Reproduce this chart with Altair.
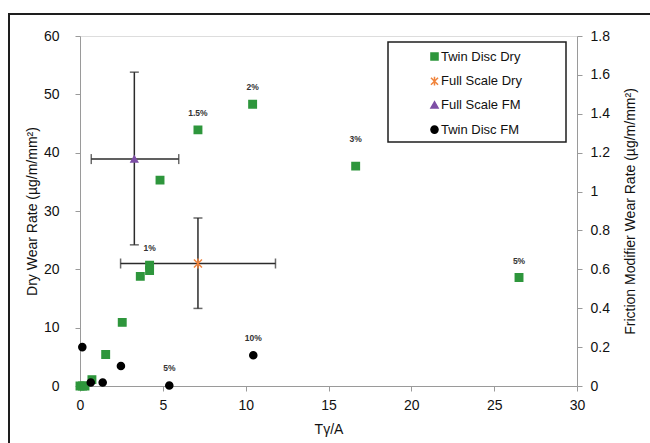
import altair as alt
import pandas as pd

# ---------------- data ----------------
series_names = ["Twin Disc Dry", "Full Scale Dry", "Full Scale FM", "Twin Disc FM"]
series_colors = ["#2E963C", "#F0843C", "#7E4FA6", "#000000"]
series_shapes = ["square", "M-1,-1L1,1M1,-1L-1,1M0,-1.25L0,1.25", "triangle-up", "circle"]

# Twin disc dry (left axis, µg/m/mm²)
td_dry_x = [0.0, 0.15, 0.3, 0.72, 1.55, 2.55, 3.64, 4.2, 4.2, 4.83, 7.12, 10.42, 16.64, 26.5]
td_dry_y = [0.0, 0.0, 0.0, 1.1, 5.4, 10.9, 18.8, 19.8, 20.7, 35.3, 43.9, 48.3, 37.7, 18.6]

# Twin disc FM (right axis)
td_fm_x = [0.14, 0.65, 1.37, 2.47, 5.39, 10.46]
td_fm_y = [0.20, 0.018, 0.018, 0.103, 0.003, 0.158]

# Full scale dry (left axis) with error ranges
fs_dry_x = [7.12]
fs_dry_y = [21.0]
fs_dry_xlo = [2.45]
fs_dry_xhi = [11.8]
fs_dry_ylo = [13.3]
fs_dry_yhi = [28.8]

# Full scale FM (right axis) with error ranges
fs_fm_x = [3.28]
fs_fm_y = [1.167]
fs_fm_xlo = [0.68]
fs_fm_xhi = [5.96]
fs_fm_ylo = [0.726]
fs_fm_yhi = [1.614]

# Concentration labels
dry_lab_x = [4.2, 7.12, 10.42, 26.5]
dry_lab_y = [20.7, 43.9, 48.3, 18.6]
dry_lab_t = ["1%", "1.5%", "2%", "5%"]
dry_lab2_x = [16.64]
dry_lab2_y = [37.7]
dry_lab2_t = ["3%"]
fm_lab_x = [5.39, 10.46]
fm_lab_y = [0.003, 0.158]
fm_lab_t = ["5%", "10%"]

x_ticks = [0, 5, 10, 15, 20, 25, 30]

# ---------------- encodings ----------------
FONT = "Liberation Sans"
AX_COL = "#9a9a9a"

x_axis = alt.Axis(values=x_ticks, title="Tγ/A", grid=False, domainColor=AX_COL, tickColor=AX_COL,
                  tickSize=5, labelPadding=7, labelFontSize=14, titleFontSize=14, offset=0,
                  labelFlush=False, titleFontWeight="normal", titlePadding=10,
                  labelColor="#111", titleColor="#111")
xs = alt.Scale(domain=[0, 30], nice=False, padding=0, zero=False)

left_axis = alt.Axis(orient="left", values=[0, 10, 20, 30, 40, 50, 60], grid=False, domainColor=AX_COL,
                     tickColor=AX_COL, tickSize=5, labelPadding=16, labelFontSize=14, offset=0,
                     labelFlush=False,
                     title="Dry Wear Rate  (µg/m/mm²)", titleFontSize=14, titleFontWeight="normal",
                     titlePadding=4, labelColor="#111", titleColor="#111")
right_axis = alt.Axis(orient="right", values=[0, 0.2, 0.4, 0.6, 0.8, 1.0, 1.2, 1.4, 1.6, 1.8],
                      labelExpr="datum.value == 1 ? '1' : (datum.value == 0 ? '0' : format(datum.value, '.1f'))",
                      grid=False, domainColor=AX_COL, tickColor=AX_COL, tickSize=5, labelPadding=8, offset=0,
                      labelFlush=False,
                      labelFontSize=14, title="Friction Modifier Wear Rate  (µg/m/mm²)", titleFontSize=14,
                      titleAngle=-90, titleBaseline="top",
                      titleFontWeight="normal", titlePadding=14, labelColor="#111", titleColor="#111")
ys_left = alt.Scale(domain=[0, 60], nice=False, padding=0)
ys_right = alt.Scale(domain=[0, 1.8], nice=False, padding=0)

color_scale = alt.Scale(domain=series_names, range=series_colors)
shape_scale = alt.Scale(domain=series_names, range=series_shapes)
legend = alt.Legend(orient="none", legendX=348, legendY=14, title=None, labelFontSize=13,
                    labelFont=FONT, labelColor="#111", rowPadding=9.7, labelOffset=0,
                    symbolStrokeWidth=1.5, symbolSize=50, direction="vertical")


def X(field="x"):
    return alt.X(f"{field}:Q", scale=xs, axis=x_axis)


def YL(field="y"):
    return alt.Y(f"{field}:Q", scale=ys_left, axis=left_axis)


def YR(field="y"):
    return alt.Y(f"{field}:Q", scale=ys_right, axis=right_axis)


def point_layer(df, Yf, size):
    return alt.Chart(df).mark_point(filled=True, strokeWidth=1.5, opacity=1).encode(
        x=X(), y=Yf(),
        color=alt.Color("series:N", scale=color_scale, legend=legend),
        stroke=alt.Stroke("series:N", scale=color_scale, legend=legend),
        shape=alt.Shape("series:N", scale=shape_scale, legend=legend),
        size=alt.value(size),
    )


def errorbar_layers(x, y, xlo, xhi, ylo, yhi, Yf):
    d = pd.DataFrame({"x": x, "y": y, "xlo": xlo, "xhi": xhi, "ylo": ylo, "yhi": yhi})
    ecol = "#2b2b2b"
    h = alt.Chart(d).mark_rule(color=ecol, strokeWidth=1.5).encode(
        x=X("xlo"), x2="xhi", y=Yf())
    v = alt.Chart(d).mark_rule(color=ecol, strokeWidth=1.5).encode(
        x=X(), y=Yf("ylo"), y2="yhi")
    capx = pd.DataFrame({"x": xlo + xhi, "y": y + y})
    capy = pd.DataFrame({"x": x + x, "y": ylo + yhi})
    cx = alt.Chart(capx).mark_tick(orient="vertical", color=ecol, size=10, thickness=1.5).encode(
        x=X(), y=Yf())
    cy = alt.Chart(capy).mark_tick(orient="horizontal", color=ecol, size=9, thickness=1.5).encode(
        x=X(), y=Yf())
    return [h, v, cx, cy]


def label_layer(xv, yv, tv, Yf, dy):
    d = pd.DataFrame({"x": xv, "y": yv, "t": tv})
    return alt.Chart(d).mark_text(fontSize=8.5, fontWeight="bold", color="#333", dy=dy,
                                  font=FONT).encode(x=X(), y=Yf(), text="t:N")


one = pd.DataFrame({"a": [0]})
frame = alt.Chart(one).mark_rect(fill=None, stroke="#1e1e1e", strokeWidth=2).encode(
    x=alt.value(-71), x2=alt.value(580), y=alt.value(-22), y2=alt.value(420))
legend_box = alt.Chart(one).mark_rect(fill="white", stroke="#1e1e1e", strokeWidth=1.5).encode(
    x=alt.value(308), x2=alt.value(486), y=alt.value(6), y2=alt.value(106))

df_td_dry = pd.DataFrame({"x": td_dry_x, "y": td_dry_y, "series": "Twin Disc Dry"})
df_fs_dry = pd.DataFrame({"x": fs_dry_x, "y": fs_dry_y, "series": "Full Scale Dry"})
df_fs_fm = pd.DataFrame({"x": fs_fm_x, "y": fs_fm_y, "series": "Full Scale FM"})
df_td_fm = pd.DataFrame({"x": td_fm_x, "y": td_fm_y, "series": "Twin Disc FM"})

left = alt.layer(
    frame, legend_box,
    *errorbar_layers(fs_dry_x, fs_dry_y, fs_dry_xlo, fs_dry_xhi, fs_dry_ylo, fs_dry_yhi, YL),
    point_layer(df_td_dry, YL, 55),
    point_layer(df_fs_dry, YL, 64),
    label_layer(dry_lab_x, dry_lab_y, dry_lab_t, YL, -17),
    label_layer(dry_lab2_x, dry_lab2_y, dry_lab2_t, YL, -27),
)

right = alt.layer(
    *errorbar_layers(fs_fm_x, fs_fm_y, fs_fm_xlo, fs_fm_xhi, fs_fm_ylo, fs_fm_yhi, YR),
    point_layer(df_fs_fm, YR, 45),
    point_layer(df_td_fm, YR, 50),
    label_layer(fm_lab_x, fm_lab_y, fm_lab_t, YR, -17),
)

chart = alt.layer(left, right).resolve_scale(y="independent").properties(
    width=497, height=350,
    autosize=alt.AutoSizeParams(type="none"),
    padding={"left": 80, "top": 36, "right": 73, "bottom": 57},
    background="white",
).configure_view(stroke=None).configure(font=FONT)

chart.save("out.html", embed_options={"renderer": "svg", "actions": False})
